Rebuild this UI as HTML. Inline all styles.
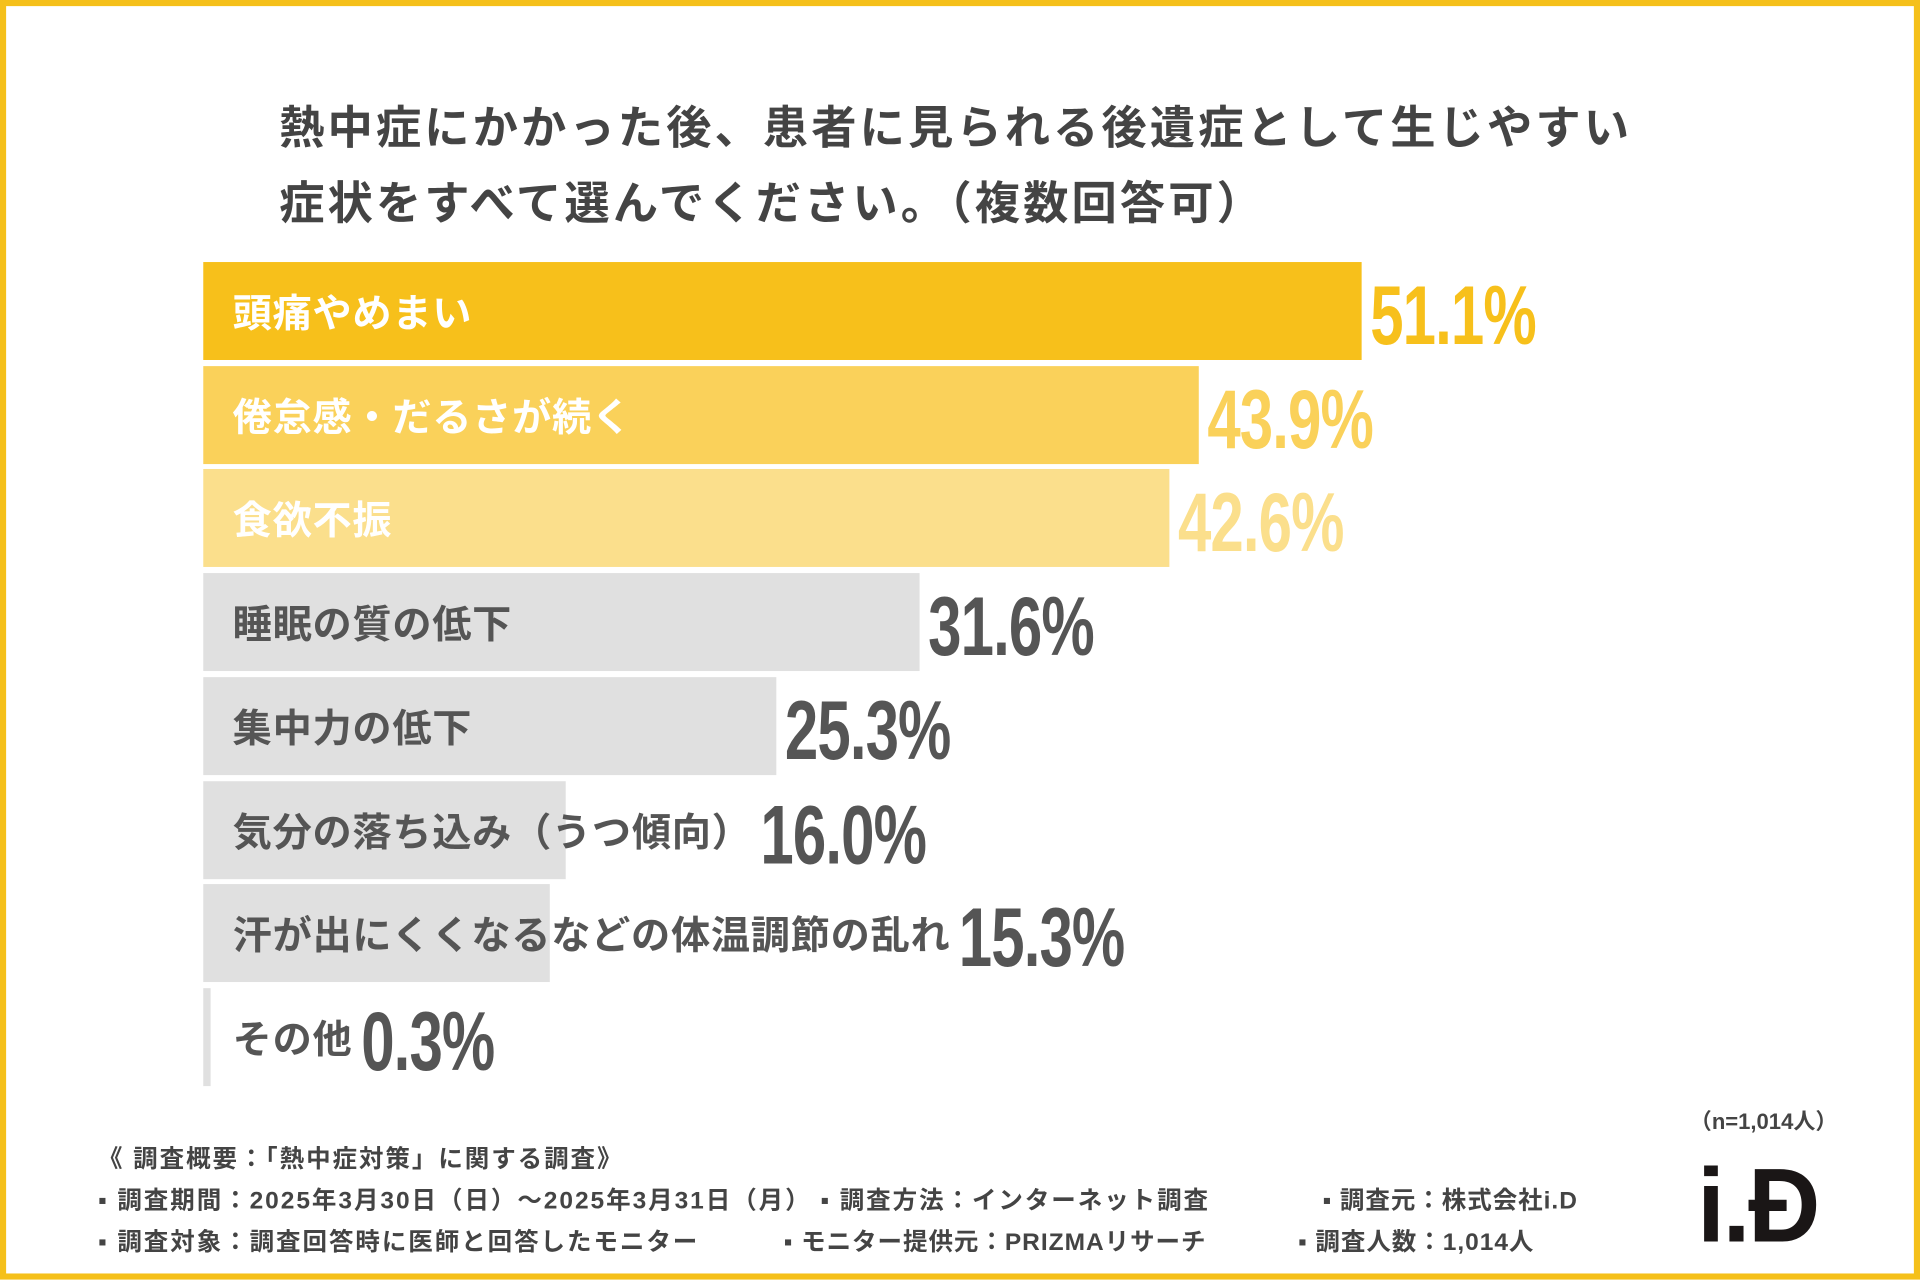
<!DOCTYPE html>
<html><head><meta charset="utf-8">
<style>
html,body{margin:0;padding:0;background:#fff;}
body{width:1920px;height:1280px;overflow:hidden;}
#stage{position:absolute;left:0;top:0;width:1568px;height:1045px;transform:scale(1.22449);transform-origin:0 0;font-family:"Liberation Sans","Noto Sans CJK JP",sans-serif;}
#frame{position:absolute;left:0;top:0;width:1568px;height:1045px;box-sizing:border-box;border:5px solid #F5C01A;}
.title{position:absolute;left:228px;font-size:37px;font-weight:bold;color:#444;letter-spacing:2.5px;white-space:nowrap;}
.bar{position:absolute;height:80px;}
.lbl{position:absolute;font-size:32px;font-weight:bold;white-space:nowrap;line-height:80px;letter-spacing:0.6px;}
.val{position:absolute;font-size:68px;font-weight:bold;white-space:nowrap;transform:scaleX(0.72);transform-origin:0 50%;line-height:80px;letter-spacing:-1px;}
.foot{position:absolute;left:80px;font-size:20px;font-weight:bold;color:#444;white-space:nowrap;letter-spacing:1.6px;}
</style></head><body>
<div id="stage">
<div id="frame"></div>
<div class="title" style="top:74px">熱中症にかかった後、患者に見られる後遺症として生じやすい</div>
<div class="title" style="top:136px">症状をすべて選んでください。（複数回答可）</div>
<div id="plot"></div>
<div class="foot" style="top:930px">《 調査概要：「熱中症対策」に関する調査》</div>
<div class="foot" style="top:964px">▪ 調査期間：2025年3月30日（日）～2025年3月31日（月） ▪ 調査方法：インターネット調査</div>
<div class="foot" style="top:964px;left:1080px;letter-spacing:0.8px">▪ 調査元：株式会社i.D</div>
<div class="foot" style="top:998px">▪ 調査対象：調査回答時に医師と回答したモニター</div>
<div class="foot" style="top:998px;left:640px;letter-spacing:0.8px">▪ モニター提供元：PRIZMAリサーチ</div>
<div class="foot" style="top:998px;left:1060px;letter-spacing:0.8px">▪ 調査人数：1,014人</div>
<div class="foot" style="top:902px;left:1380px;font-size:18px;letter-spacing:0">（n=1,014人）</div>
<div style="position:absolute;left:1386px;top:936px;font-size:86px;font-weight:bold;color:#1a1616;transform:scaleX(0.95);transform-origin:0 0;letter-spacing:-2px">i.Đ</div>
</div>
<script>
const categories=["頭痛やめまい","倦怠感・だるさが続く","食欲不振","睡眠の質の低下","集中力の低下","気分の落ち込み（うつ傾向）","汗が出にくくなるなどの体温調節の乱れ","その他"];
const values=[51.1,43.9,42.6,31.6,25.3,16.0,15.3,0.3];
const valueLabels=["51.1%","43.9%","42.6%","31.6%","25.3%","16.0%","15.3%","0.3%"];
const barColors=["#F7C01B","#FAD15A","#FBDF8C","#E0E0E0"];
const x0=166, pxPer=18.51, top0=214, pitch=84.7;
const xs=v=>v*pxPer;
const plot=document.getElementById('plot');
categories.forEach((c,i)=>{
  const y=top0+i*pitch;
  const col=i<3?barColors[i]:barColors[3];
  const bar=document.createElement('div');
  bar.className='bar';
  
  
  const w=Math.max(xs(values[i]),4);
  bar.style.cssText=`left:${x0}px;top:${y}px;width:${w}px;background:${col}`;
  plot.appendChild(bar);
  const lb=document.createElement('div');
  lb.className='lbl';
  
  
  lb.textContent=c;
  lb.style.cssText=`left:190px;top:${y+2}px;color:${i<3?'#fff':'#555'}`;
  plot.appendChild(lb);
  const lw=lb.getBoundingClientRect().width/1.22449;
  const vx=Math.max(x0+w,190+lw)+7;
  const vl=document.createElement('div');
  vl.className='val';
  
  
  vl.textContent=valueLabels[i];
  vl.style.cssText=`left:${vx}px;top:${y+4}px;color:${i<3?col:'#555'}`;
  plot.appendChild(vl);
});
</script>
</body></html>
